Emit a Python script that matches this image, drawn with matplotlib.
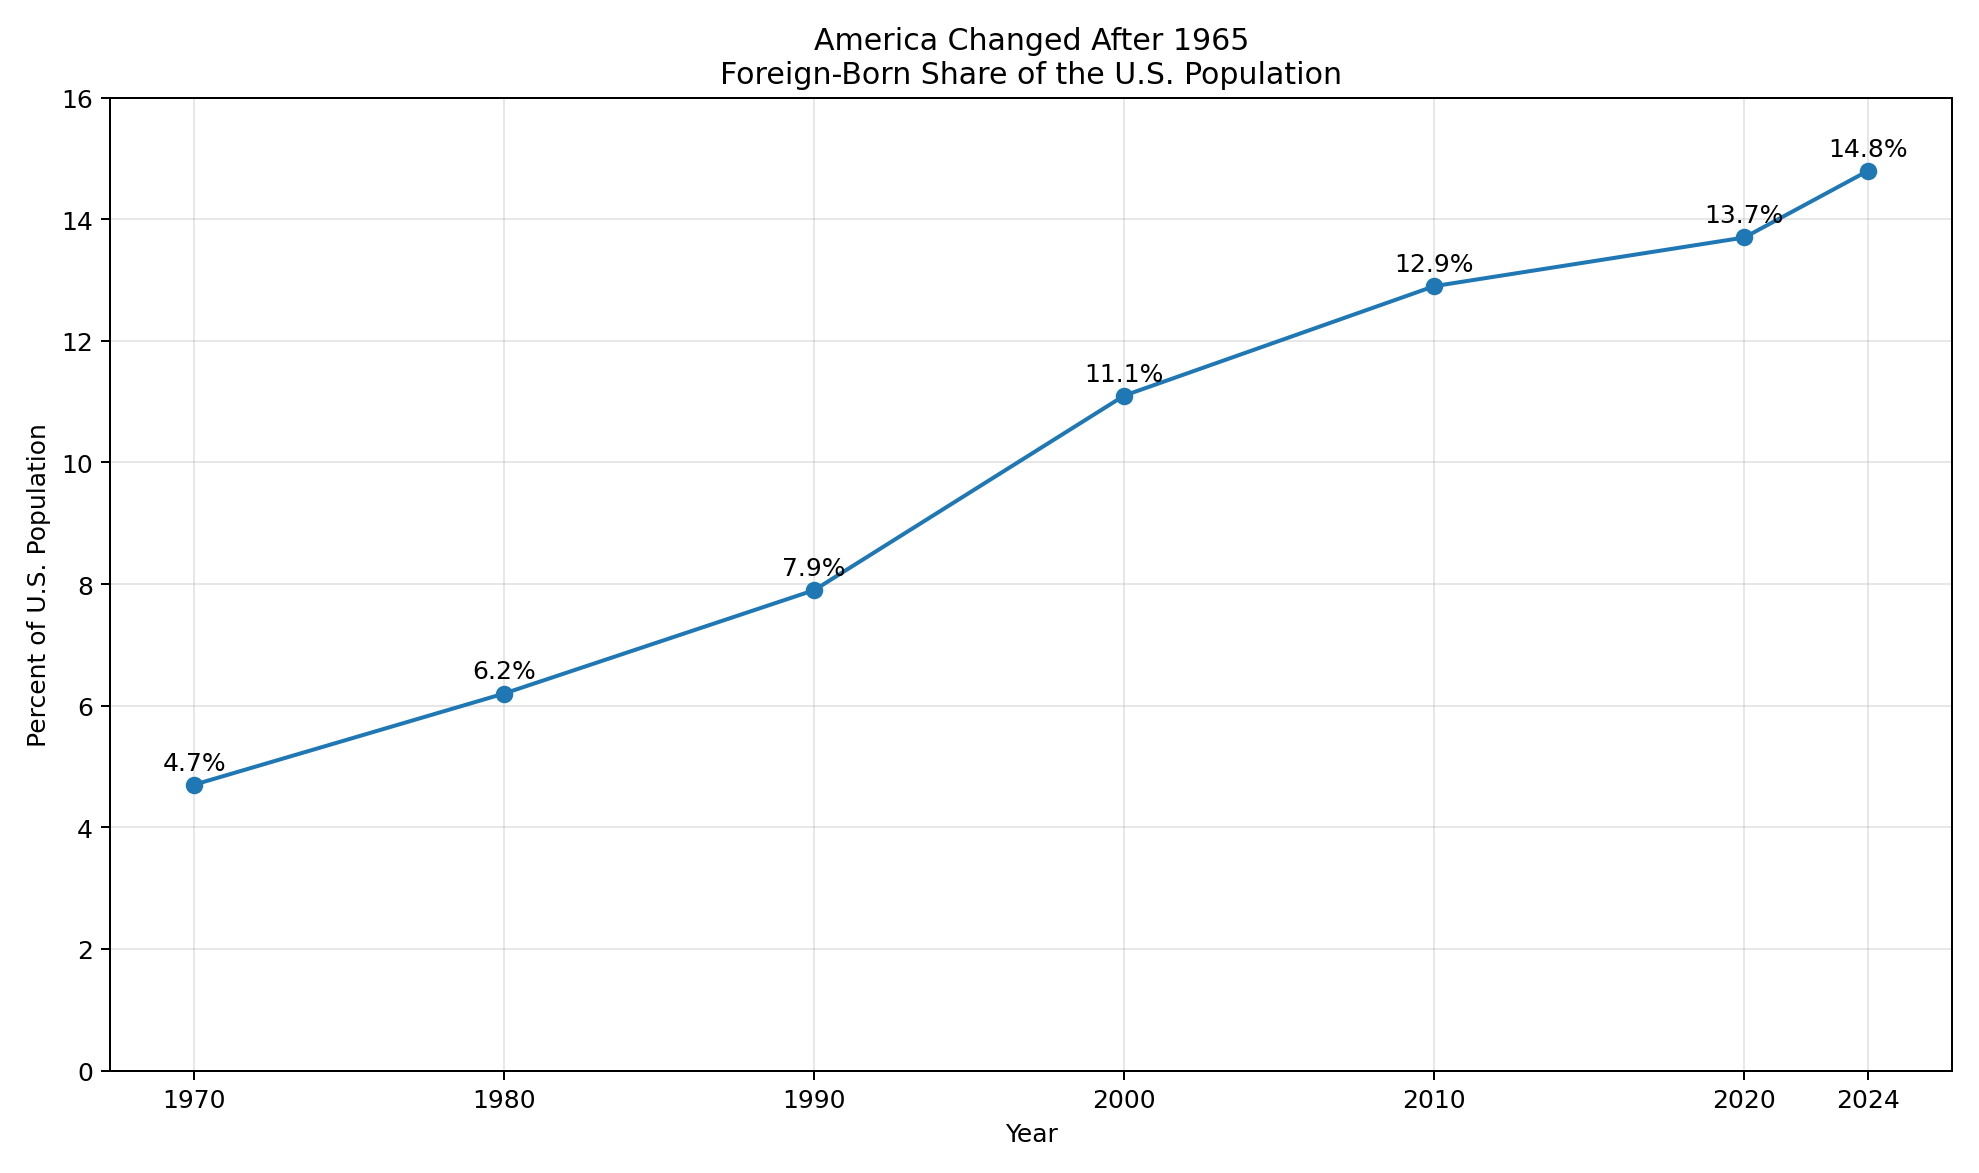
import matplotlib.pyplot as plt

years = [1970, 1980, 1990, 2000, 2010, 2020, 2024]
share = [4.7, 6.2, 7.9, 11.1, 12.9, 13.7, 14.8]

fig, ax = plt.subplots(figsize=(10.995, 6.522), dpi=180)
ax.plot(years, share, marker="o", color="#1f77b4", linewidth=1.6, markersize=6)

for x, y in zip(years, share):
    ax.annotate(f"{y}%", (x, y), textcoords="offset points", xytext=(0, 6),
                ha="center", fontsize=10)

ax.set_title("America Changed After 1965\nForeign-Born Share of the U.S. Population", fontsize=12)
ax.set_xlabel("Year")
ax.set_ylabel("Percent of U.S. Population")
ax.set_xticks(years)
ax.set_ylim(0, 16)
ax.grid(alpha=0.3)

plt.tight_layout()
plt.savefig("out.png", dpi=180)
plt.close(fig)
